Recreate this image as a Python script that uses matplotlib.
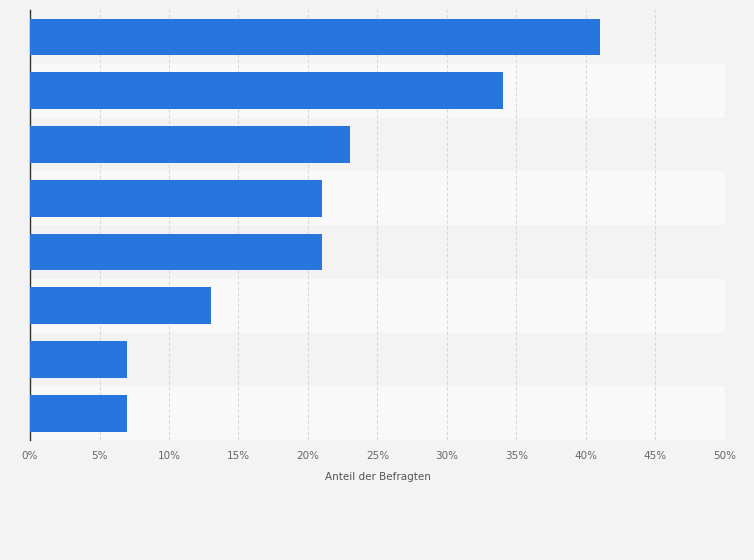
import matplotlib.pyplot as plt
import matplotlib.ticker as ticker

values = [41, 34, 23, 21, 21, 13, 7, 7]
ticks = list(range(0, 55, 5))

fig = plt.figure(figsize=(7.54, 5.60), dpi=100, facecolor='#f3f3f3')
ax = fig.add_axes([0.0398, 0.214, 0.9217, 0.768])
ax.set_facecolor('#f3f3f3')

n = len(values)
pos = list(range(n))
for i in pos:
    ax.axhspan(i - 0.5, i + 0.5, color='#f3f3f3' if i % 2 == 0 else '#f9f9f9', zorder=0, lw=0)
ax.barh(pos, values, height=0.68, color='#2876dd', zorder=3)

ax.set_ylim(n - 0.5, -0.5)
ax.set_xlim(0, 50)
ax.set_xticks(ticks)
ax.xaxis.set_major_formatter(ticker.FuncFormatter(lambda v, p: f'{int(v)}%'))
ax.set_yticks([])
ax.grid(axis='x', color='#d8d8d8', linestyle=(0, (3, 2)), linewidth=0.8, zorder=1)
ax.tick_params(axis='x', length=0, labelsize=7.5, labelcolor='#666666', pad=8)
for s in ['top', 'right', 'bottom']:
    ax.spines[s].set_visible(False)
ax.spines['left'].set_color('#333333')
ax.spines['left'].set_linewidth(1)
ax.set_xlabel('Anteil der Befragten', fontsize=7.5, color='#555555', labelpad=8)

fig.savefig('out.png', dpi=100, facecolor=fig.get_facecolor())
